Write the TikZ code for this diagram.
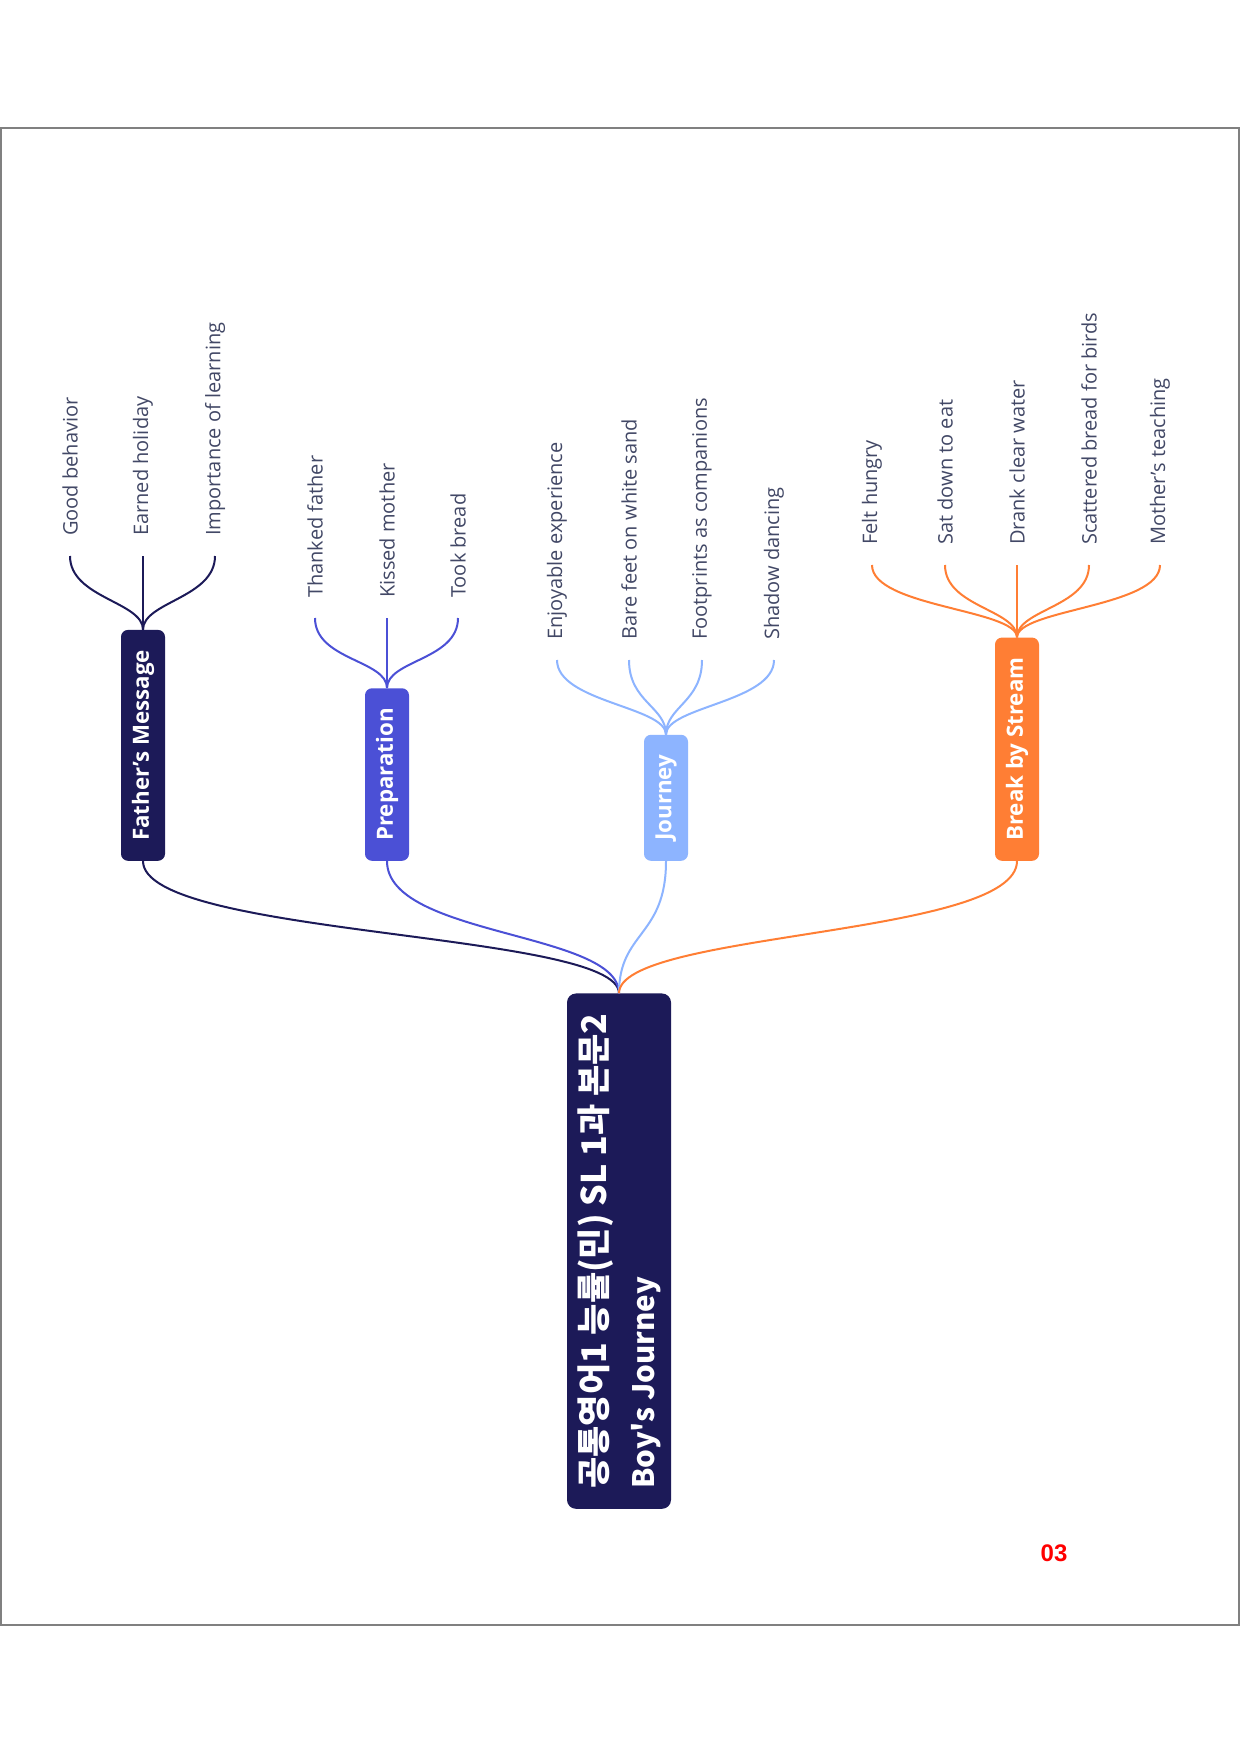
\documentclass[tikz,border=0pt]{standalone}
\usepackage{fontspec}
\setmainfont{Open Sans}
\newfontfamily\krfont{Noto Sans CJK KR}
\newfontfamily\pagenofont{Liberation Sans}
\definecolor{navy}{RGB}{28,26,88}
\definecolor{prepblue}{RGB}{75,80,214}
\definecolor{skyblue}{RGB}{141,180,255}
\definecolor{streamorange}{RGB}{255,126,52}
\definecolor{leaftext}{RGB}{66,72,102}
\definecolor{framegray}{RGB}{128,128,128}

\begin{document}
\begin{tikzpicture}[x=1pt,y=-1pt,
  rootbox/.style={rectangle, rounded corners=9pt, fill=navy, text=white,
    rotate=90, anchor=west, inner xsep=20pt, inner ysep=4pt,
    minimum height=104pt, align=left,
    font=\krfont\bfseries\fontsize{34}{48}\selectfont},
  topicbox/.style={rectangle, rounded corners=7pt, fill=#1, text=white,
    rotate=90, anchor=west, inner xsep=20pt, inner ysep=0pt,
    minimum height=44pt, font=\bfseries\fontsize{22.3}{26}\selectfont},
  leaf/.style={rotate=90, anchor=west, inner xsep=20pt, inner ysep=0pt,
    text=leaftext, font=\fontsize{20}{24}\selectfont},
  link/.style={draw=#1, line width=2pt},
]
\useasboundingbox (0,0) rectangle (1240,1754);
\fill[white] (0,0) rectangle (1240,1754);

% page frame
\draw[framegray, line width=2pt] (1,128) rectangle (1239,1625);

% central topic
\node[rootbox] (root) at (619,1509)
  {공통영어1 능률(민) SL 1과 본문2\\{\fontsize{29.5}{48}\selectfont Boy's Journey}};

% main topics
\node[topicbox=navy]         (fm) at (143,861)  {Father's Message};
\node[topicbox=prepblue]     (pr) at (387,861)  {Preparation};
\node[topicbox=skyblue]      (jo) at (666,861)  {Journey};
\node[topicbox=streamorange] (bs) at (1017,861) {Break by Stream};

% root to main topics
\draw[link=navy]         (fm.west) .. controls +(0,76) and +(0,-62) .. (root.east);
\draw[link=prepblue]     (pr.west) .. controls +(0,76) and +(0,-62) .. (root.east);
\draw[link=skyblue]      (jo.west) .. controls +(0,76) and +(0,-62) .. (root.east);
\draw[link=streamorange] (bs.west) .. controls +(0,76) and +(0,-62) .. (root.east);

% Father's Message
\node[leaf] (f1) at (70,556)  {Good behavior};
\node[leaf] (f2) at (143,556) {Earned holiday};
\node[leaf] (f3) at (215,556) {Importance of learning};
\foreach \n in {f1,f2,f3}
  \draw[link=navy] (\n.west) .. controls +(0,42) and +(0,-28) .. (fm.east);

% Preparation
\node[leaf] (p1) at (315,618) {Thanked father};
\node[leaf] (p2) at (387,618) {Kissed mother};
\node[leaf] (p3) at (458,618) {Took bread};
\foreach \n in {p1,p2,p3}
  \draw[link=prepblue] (\n.west) .. controls +(0,42) and +(0,-28) .. (pr.east);

% Journey
\node[leaf] (j1) at (557,660) {Enjoyable experience};
\node[leaf] (j2) at (629,660) {Bare feet on white sand};
\node[leaf] (j3) at (702,660) {Footprints as companions};
\node[leaf] (j4) at (774,660) {Shadow dancing};
\foreach \n in {j1,j2,j3,j4}
  \draw[link=skyblue] (\n.west) .. controls +(0,42) and +(0,-28) .. (jo.east);

% Break by Stream
\node[leaf] (b1) at (872,565)  {Felt hungry};
\node[leaf] (b2) at (945,565)  {Sat down to eat};
\node[leaf] (b3) at (1017,565) {Drank clear water};
\node[leaf] (b4) at (1089,565) {Scattered bread for birds};
\node[leaf] (b5) at (1160,565) {Mother’s teaching};
\foreach \n in {b1,b2,b3,b4,b5}
  \draw[link=streamorange] (\n.west) .. controls +(0,42) and +(0,-28) .. (bs.east);

% page number
\node[text=red, font=\pagenofont\bfseries\fontsize{24}{28}\selectfont]
  (pageno) at (1054,1553) {03};
\end{tikzpicture}
\end{document}
